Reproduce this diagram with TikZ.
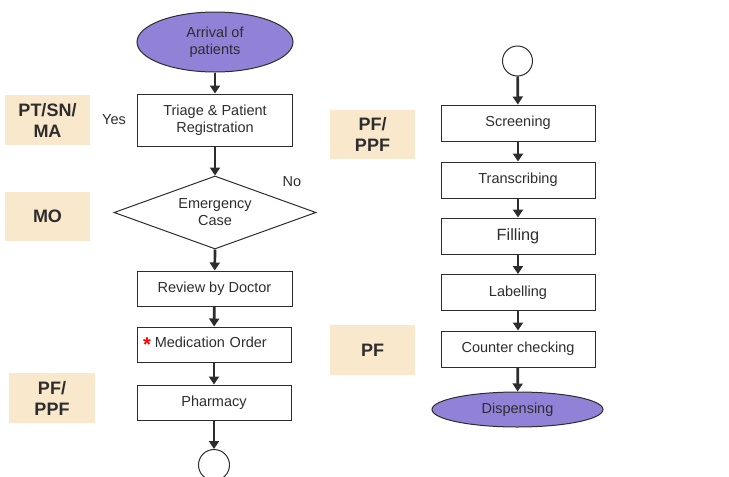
\documentclass[tikz,border=0pt]{standalone}
\usepackage{fontspec}
\setmainfont{Liberation Sans}
\usetikzlibrary{shapes.geometric,arrows.meta,positioning}
\definecolor{mypurple}{RGB}{145,130,215}
\definecolor{mybeige}{RGB}{250,232,204}
\definecolor{mydark}{RGB}{45,45,45}

\begin{document}
\begin{tikzpicture}[x=1pt,y=-1pt,inner sep=0pt,font=\fontsize{14.5}{17}\selectfont,text=mydark]
\tikzstyle{main}=[rectangle, draw=mydark, line width=1pt, minimum width=155pt, minimum height=35pt, align=center]
\tikzstyle{term}=[ellipse, draw=mydark, line width=1pt, fill=mypurple, align=center]
\tikzstyle{conn}=[circle, draw=mydark, line width=1pt, minimum size=31pt]
\tikzstyle{role}=[rectangle, fill=mybeige, minimum width=85pt, minimum height=50pt, align=center, font=\fontsize{18}{21}\selectfont\bfseries]
\tikzstyle{connect}=[-{Triangle[length=8pt,width=10pt]}, line width=2.7pt, draw=mydark]
\useasboundingbox (0,0) rectangle (729,477);
% left column
\node[term, minimum width=156pt, minimum height=60pt] (arr) at (215,42) {Arrival of\\patients};
\node[main, minimum height=52pt] (tri) at (215,120) {Triage \& Patient\\Registration};
\node[diamond, draw=mydark, line width=1pt, minimum width=202pt, minimum height=73pt, aspect=2.77, align=center] (emg) at (215,212.5) {Emergency\\Case};
\node[main] (rev) at (214.5,288.5) {Review by Doctor};
\node[main, minimum width=154pt, text width=142pt, align=left] (med) at (214,344.5) {\textcolor{red}{\raisebox{-4pt}{\fontsize{20}{20}\selectfont\bfseries *}}\hspace{4pt}Medication Order};
\node[main, minimum width=154pt] (pha) at (214,402.5) {Pharmacy};
\node[conn] (endL) at (214,465) {};
% right column
\node[conn, minimum size=30pt] (conR) at (517.5,61) {};
\node[main, minimum width=154pt, minimum height=36pt] (scr) at (518,123) {Screening};
\node[main, minimum width=154pt, minimum height=36pt] (tra) at (518,180) {Transcribing};
\node[main, minimum width=154pt, minimum height=36pt, font=\fontsize{16.3}{19}\selectfont] (fil) at (518,236) {Filling};
\node[main, minimum width=154pt, minimum height=36pt] (lab) at (518,292.5) {Labelling};
\node[main, minimum width=154pt, minimum height=36pt] (cou) at (518,349) {Counter checking};
\node[term, minimum width=171pt, minimum height=35pt] (dis) at (517.5,409.5) {Dispensing};
% roles
\node[role] (rPT) at (47.5,120) {PT/SN/\\MA};
\node[role, minimum height=49pt] (rMO) at (47.5,216) {MO};
\node[role, minimum width=86pt] (rPFa) at (52,398) {PF/\\PPF};
\node[role, minimum height=49pt] (rPFb) at (372.5,134.5) {PF/\\PPF};
\node[role] (rPFc) at (372.5,350) {PF};
\node (yes) at (114,120) {Yes};
\node (no) at (292,182) {No};
% arrows
\path (arr) edge[connect] (tri);
\path (tri) edge[connect] (emg.north);
\path (emg.south) edge[connect] (rev);
\path (rev) edge[connect] (med);
\path (med) edge[connect] (pha);
\path (pha) edge[connect] (endL);
\path (conR) edge[connect] (scr);
\path (scr) edge[connect] (tra);
\path (tra) edge[connect] (fil);
\path (fil) edge[connect] (lab);
\path (lab) edge[connect] (cou);
\path (cou) edge[connect] (dis);
\end{tikzpicture}
\end{document}
